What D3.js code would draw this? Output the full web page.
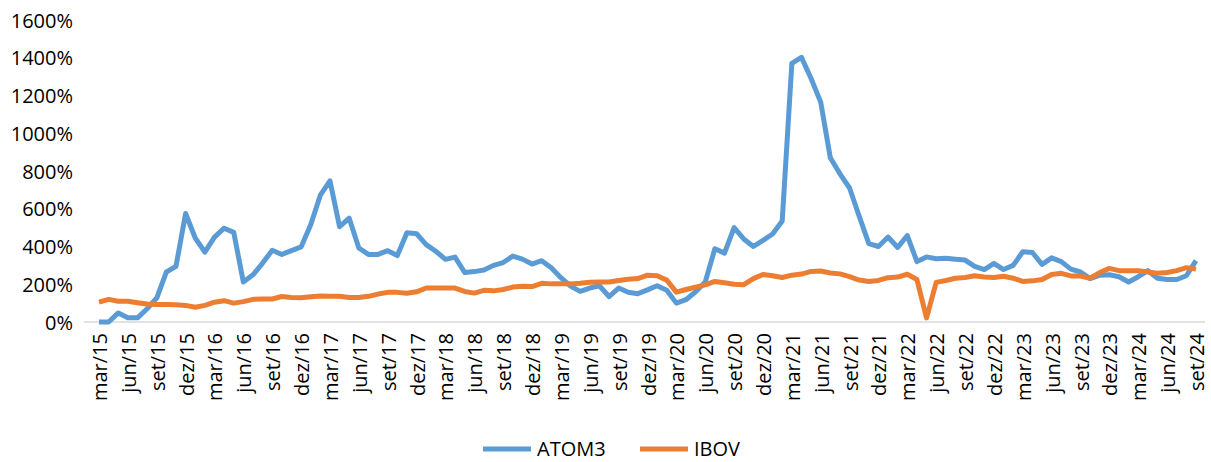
<!DOCTYPE html>
<html>
<head>
<meta charset="utf-8">
<script src="https://cdn.jsdelivr.net/npm/d3@7"></script>
<style>
  body { margin: 0; background: #fff; }
  svg text { font-family: "Open Sans", "Liberation Sans", sans-serif; fill: #000; }
</style>
</head>
<body>
<div class="chart"></div>
<script>
var width = 1211,
    height = 462;

// months from mar/15 to set/24
var monthNames = ["jan", "fev", "mar", "abr", "mai", "jun", "jul", "ago", "set", "out", "nov", "dez"];
var months = [];
for (var k = 0; k < 115; k++) {
  var m = (2 + k) % 12, yr = 15 + Math.floor((2 + k) / 12);
  months.push(monthNames[m] + "/" + yr);
}

var yTicks = [0, 200, 400, 600, 800, 1000, 1200, 1400, 1600];

// ATOM3 (%)
var atom3 = [
  0, 0, 48, 22, 22, 70, 127, 265, 295, 575,
  445, 370, 450, 497, 475, 212, 250, 312, 380, 358,
  378, 398, 515, 672, 748, 505, 550, 392, 358, 358,
  378, 352, 473, 468, 410, 375, 332, 344, 262, 267,
  275, 300, 315, 349, 333, 307, 325, 287, 235, 190,
  162, 180, 192, 135, 180, 158, 150, 170, 192, 168,
  100, 118, 160, 212, 388, 365, 500, 440, 400, 432,
  466, 535, 1370, 1402, 1290, 1165, 870, 785, 710, 560,
  415, 400, 450, 395, 458, 320, 345, 335, 338, 333,
  328, 295, 278, 310, 278, 300, 372, 368, 305, 340,
  320, 280, 265, 230, 248, 250, 240, 212, 240, 272,
  232, 225, 225, 245, 325
];

// IBOV (%)
var ibov = [
  105, 120, 110, 110, 102, 95, 93, 93, 92, 88,
  78, 88, 105, 113, 100, 108, 120, 122, 122, 135,
  130, 128, 134, 138, 136, 136, 130, 130, 136, 148,
  157, 157, 152, 160, 180, 180, 180, 180, 162, 153,
  168, 165, 172, 185, 190, 188, 205, 202, 202, 202,
  205, 210, 212, 212, 220, 226, 230, 248, 245, 222,
  158, 172, 185, 197, 215, 208, 200, 198, 230, 252,
  245, 236, 248, 254, 268, 270, 260, 255, 240, 222,
  215, 220, 235, 238, 253, 225, 22, 210, 220, 232,
  236, 245, 238, 236, 242, 232, 215, 218, 225, 252,
  258, 244, 244, 232, 262, 284, 272, 272, 272, 265,
  258, 262, 272, 288, 280
];

var seriesNames = ["ATOM3", "IBOV"];
var colors = ["#5B9BD5", "#ED7D31"];

var x = d3.scalePoint()
    .domain(months)
    .range([94.2, 1200.8])
    .padding(0.5);

var y = d3.scaleLinear()
    .domain([0, 1600])
    .range([322, 20]);

var svg = d3.select(".chart").append("svg")
    .attr("width", width)
    .attr("height", height);

// y axis labels
var yAxis = svg.append("g")
    .attr("transform", "translate(73,0)")
    .call(d3.axisLeft(y).tickValues(yTicks).tickSize(0).tickPadding(0).tickFormat(function(d) { return d + "%"; }));
yAxis.select(".domain").remove();
yAxis.selectAll("text")
    .style("font-size", "20px")
    .attr("dy", "0.35em");

// baseline
svg.append("line")
    .attr("x1", 84).attr("x2", 1205)
    .attr("y1", y(0)).attr("y2", y(0))
    .attr("stroke", "#d9d9d9")
    .attr("stroke-width", 1.5);

// x labels, every 3 months
var xLabels = months.filter(function(d, i) { return i % 3 === 0; });
svg.append("g").selectAll("text")
    .data(xLabels)
    .enter().append("text")
    .attr("transform", function(d) { return "translate(" + (x(d) + 1) + ",333) rotate(-90)"; })
    .attr("text-anchor", "end")
    .attr("dy", "0.35em")
    .style("font-size", "20px")
    .text(function(d) { return d; });

var line = d3.line()
    .x(function(d, i) { return x(months[i]); })
    .y(function(d) { return y(d); });

[atom3, ibov].forEach(function(vals, s) {
  svg.append("path")
    .datum(vals)
    .attr("d", line)
    .attr("fill", "none")
    .attr("stroke", colors[s])
    .attr("stroke-width", 5)
    .attr("stroke-linejoin", "round");
});

// legend
var legendPos = [483, 640];
var legend = svg.append("g");
seriesNames.forEach(function(name, s) {
  legend.append("line")
    .attr("x1", legendPos[s]).attr("x2", legendPos[s] + 48)
    .attr("y1", 449).attr("y2", 449)
    .attr("stroke", colors[s])
    .attr("stroke-width", 5);
  legend.append("text")
    .attr("x", legendPos[s] + 54)
    .attr("y", 449)
    .attr("dy", "0.35em")
    .style("font-size", "20px")
    .text(name);
});
</script>
</body>
</html>
